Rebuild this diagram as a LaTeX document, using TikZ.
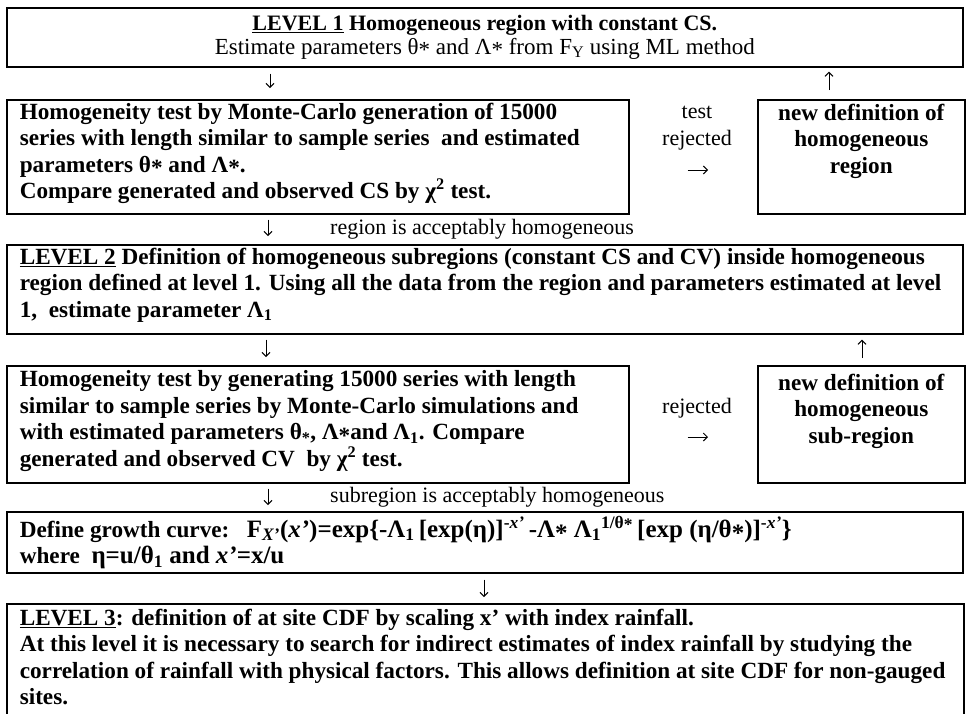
\documentclass[tikz,border=0pt]{standalone}
\usepackage{fontspec}
\setmainfont{Liberation Serif}
\usetikzlibrary{arrows.meta,positioning}

\newcommand{\st}{\raisebox{-0.35ex}{*}}
\newcommand{\boxfill}[4][t]{\parbox[c][#3][#1]{#2}{\raggedright #4}}

\tikzset{
  frame/.style={draw,line width=1.6pt,inner xsep=13pt,inner ysep=0pt,anchor=north west,
    font=\fontsize{23.2}{26.5}\selectfont\bfseries},
  note/.style={inner sep=0pt,font=\fontsize{22}{27}\selectfont},
  flow/.style={->,line width=1pt},
}

\begin{document}
\begin{tikzpicture}[x=1pt,y=-1pt,>={Straight Barb[length=4pt,width=8pt]}]
 \useasboundingbox (0,0) rectangle (966,713);
 % level 1
 \node[frame] (lv1) at (6,7) {\boxfill[c]{930pt}{59pt}{\centering\fontsize{22}{23.5}\selectfont
   \underline{LEVEL 1} Homogeneous region with constant CS.\\
   \mdseries\fontsize{23}{23.5}\selectfont Estimate parameters θ\st{} and Λ\st{} from F\textsubscript{Y} using ML method\par}};
 \node[frame] (hom1) at (6,99) {\boxfill{596pt}{114pt}{\vspace*{3pt}%
   Homogeneity test by Monte-Carlo generation of 15000\\
   series with length similar to sample series\ \ and estimated\\
   parameters θ\st{} and Λ\st.\\
   Compare generated and observed CS by χ\textsuperscript{2} test.}};
 \node[frame] (new1) at (757,99) {\boxfill{181pt}{114pt}{\vspace*{4pt}\centering
   new definition of\\ homogeneous\\ region\par}};
 \node[note,align=center] (rej1) at (697,128.5) {test\\rejected};
 % level 2
 \node[frame] (lv2) at (6,244) {\boxfill{930pt}{89pt}{\vspace*{3pt}%
   \underline{LEVEL 2} Definition of homogeneous subregions (constant CS and CV) inside homogeneous\\
   region defined at level 1. Using all the data from the region and parameters estimated at level\\
   1,\ \ estimate parameter Λ\textsubscript{1}}};
 \node[note,anchor=west] (ok1) at (330,229) {region is acceptably homogeneous};
 \node[frame] (hom2) at (6,365) {\boxfill{596pt}{117pt}{\vspace*{5pt}%
   Homogeneity test by generating 15000 series with length\\
   similar to sample series by Monte-Carlo simulations and\\
   with estimated parameters θ\textsubscript{*}, Λ\st{}and Λ\textsubscript{1}. Compare\\
   generated and observed CV\ \ by χ\textsuperscript{2} test.}};
 \node[frame] (new2) at (757,365) {\boxfill{181pt}{117pt}{\vspace*{8pt}\centering
   new definition of\\ homogeneous\\ sub-region\par}};
 \node[note] (rej2) at (697,408) {rejected};
 \node[note,anchor=west] (ok2) at (330,497) {subregion is acceptably homogeneous};
 % growth curve
 \node[frame] (grow) at (6,511) {\boxfill[c]{930pt}{61pt}{%
   Define growth curve:\ \ \ {\fontsize{25}{26.5}\selectfont F\textsubscript{\textit{X'}}(\textit{x'})=exp\{-Λ\textsubscript{1}\,[exp(η)]\textsuperscript{-\textit{x'}}\,-Λ\st{}\ Λ\textsubscript{1}\textsuperscript{1/θ\st}\,[exp (η/θ\st)]\textsuperscript{-\textit{x'}}\}}\\
   where\ \ {\fontsize{25}{26.5}\selectfont η=u/θ\textsubscript{1} and \textit{x'}=x/u}}};
 % level 3
 \node[frame] (lv3) at (6,603) {\boxfill{931pt}{115pt}{\vspace*{5pt}%
   \underline{LEVEL 3}: definition of at site CDF by scaling x' with index rainfall.\\
   At this level it is necessary to search for indirect estimates of index rainfall by studying the\\
   correlation of rainfall with physical factors. This allows definition at site CDF for non-gauged\\
   sites.}};
 % arrows
 \draw[flow,shorten <=6pt,shorten >=11pt] (lv1.south -| 270,0) -- (hom1.north -| 270,0);
 \draw[flow,shorten <=9pt,shorten >=4pt] (new1.north -| 829,0) -- (lv1.south -| 829,0);
 \draw[flow,shorten <=58pt,shorten >=49pt] (hom1.east |- 0,170) -- (new1.west |- 0,170);
 \draw[flow,shorten <=5pt,shorten >=8pt] (hom1.south -| 268,0) -- (lv2.north -| 268,0);
 \draw[flow,shorten <=5pt,shorten >=8pt] (lv2.south -| 266,0) -- (hom2.north -| 266,0);
 \draw[flow,shorten <=7pt,shorten >=5pt] (new2.north -| 862,0) -- (lv2.south -| 862,0);
 \draw[flow,shorten <=58pt,shorten >=49pt] (hom2.east |- 0,437) -- (new2.west |- 0,437);
 \draw[flow,shorten <=5pt,shorten >=6pt] (hom2.south -| 268,0) -- (grow.north -| 268,0);
 \draw[flow,shorten <=6pt,shorten >=6pt] (grow.south -| 484,0) -- (lv3.north -| 484,0);
\end{tikzpicture}
\end{document}
